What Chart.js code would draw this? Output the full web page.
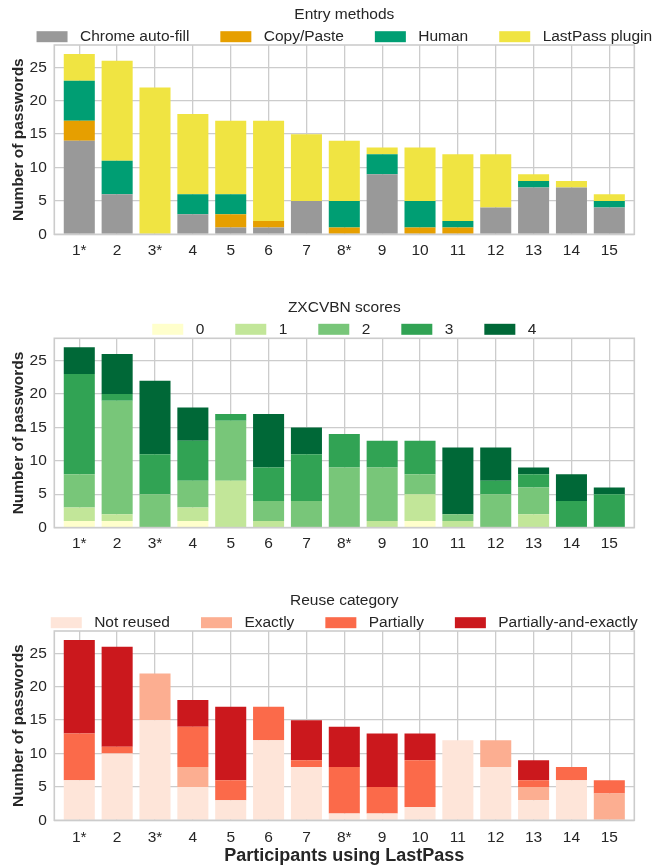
<!DOCTYPE html>
<html><head><meta charset="utf-8">
<script src="https://cdn.jsdelivr.net/npm/chart.js@4.4.0/dist/chart.umd.min.js"></script>
<style>
html,body{margin:0;padding:0;background:#fff;overflow:hidden}
#wrap{position:relative;width:652px;height:867px;background:#fff}
.c{position:absolute;left:0;width:652px}
</style></head><body>
<div id="wrap">
<div class="c" style="top:0;height:262px"><canvas id="c1"></canvas></div>
<div class="c" style="top:290px;height:262px"><canvas id="c2"></canvas></div>
<div class="c" style="top:585px;height:282px"><canvas id="c3"></canvas></div>
</div>
<script>
// ---- data ----
const participants = ['1*','2','3*','4','5','6','7','8*','9','10','11','12','13','14','15'];
const yTicks = [0,5,10,15,20,25];

const entryLabels = ['Chrome auto-fill','Copy/Paste','Human','LastPass plugin'];
const chromeAutofill = [14,6,0,3,1,1,5,0,9,0,0,4,7,7,4];
const copyPaste      = [3,0,0,0,2,1,0,1,0,1,1,0,0,0,0];
const human          = [6,5,0,3,3,0,0,4,3,4,1,0,1,0,1];
const lastpassPlugin = [4,15,22,12,11,15,10,9,1,8,10,8,1,1,1];

const zxcvbnLabels = ['0','1','2','3','4'];
const score0 = [1,1,0,1,0,0,0,0,0,1,0,0,0,0,0];
const score1 = [2,1,0,2,7,1,0,0,1,4,1,0,2,0,0];
const score2 = [5,17,5,4,9,3,4,9,8,3,1,5,4,0,0];
const score3 = [15,1,6,6,1,5,7,5,4,5,0,2,2,4,5];
const score4 = [4,6,11,5,0,8,4,0,0,0,10,5,1,4,1];

const reuseLabels = ['Not reused','Exactly','Partially','Partially-and-exactly'];
const notReused    = [6,10,15,5,3,12,8,1,1,2,12,8,3,6,0];
const exactly      = [0,0,7,3,0,0,0,0,0,0,0,4,2,0,4];
const partially    = [7,1,0,6,3,5,1,7,4,7,0,0,1,2,2];
const partExactly  = [14,15,0,4,11,0,6,6,8,4,0,0,3,0,0];

// ---- style ----
const FONT = '"Liberation Sans", Arial, sans-serif';
const TEXT = '#262626';
const GRID = '#cccccc';
const FS = 15.5;

const frame = {
  id: 'frame',
  beforeDraw(chart, args, opts) {
    const {ctx, chartArea: a} = chart;
    const cx = (a.left + a.right) / 2;
    ctx.save();
    ctx.fillStyle = TEXT;
    ctx.font = FS + 'px ' + FONT;
    ctx.textAlign = 'center';
    ctx.textBaseline = 'middle';
    ctx.fillText(opts.title, cx, opts.titleY);
    const items = chart.data.datasets.map(d => ({label: d.label, color: d.backgroundColor}));
    const box = 31, boxH = 11, gap = 12.4, col = 31;
    const widths = items.map(it => box + gap + ctx.measureText(it.label).width);
    const total = widths.reduce((s, w) => s + w, 0) + col * (items.length - 1);
    let x = cx - total / 2;
    ctx.textAlign = 'left';
    items.forEach((it, i) => {
      ctx.fillStyle = it.color;
      ctx.fillRect(x, opts.legendY - boxH / 2, box, boxH);
      ctx.fillStyle = TEXT;
      ctx.fillText(it.label, x + box + gap, opts.legendY);
      x += widths[i] + col;
    });
    ctx.restore();
  },
  afterDatasetsDraw(chart) {
    const {ctx, chartArea: a} = chart;
    ctx.save();
    ctx.strokeStyle = GRID;
    ctx.lineWidth = 1.6;
    ctx.strokeRect(a.left, a.top, a.right - a.left, a.bottom - a.top);
    ctx.restore();
  }
};

function makeChart(id, labels, series, colors, o) {
  return new Chart(document.getElementById(id), {
    type: 'bar',
    data: {
      datasets: series.map((vals, k) => ({
        label: labels[k],
        backgroundColor: colors[k],
        data: vals.map((v, i) => ({x: i, y: v})),
        categoryPercentage: 0.82,
        barPercentage: 1,
        borderWidth: 0
      }))
    },
    options: {
      responsive: true,
      maintainAspectRatio: false,
      animation: false,
      layout: {padding: {top: o.top, right: 17.7, left: 0, bottom: 0}},
      plugins: {
        legend: {display: false},
        tooltip: {enabled: false},
        frame: {title: o.title, titleY: o.titleY, legendY: o.legendY}
      },
      scales: {
        x: {
          type: 'linear', stacked: true, min: -0.66, max: 14.66, offset: false,
          afterBuildTicks: s => { s.ticks = participants.map((_, i) => ({value: i})); },
          afterFit: s => { s.height = o.xh; },
          grid: {color: GRID, lineWidth: 1.3, drawTicks: false, offset: false},
          border: {display: false},
          ticks: {padding: o.tickPad, color: TEXT, font: {family: FONT, size: FS}, maxRotation: 0, autoSkip: false,
                  callback: v => participants[v]},
          title: o.xTitle ? {display: true, text: o.xTitle, color: TEXT,
                  font: {family: FONT, size: 18, weight: 'bold'}, padding: {top: 0, bottom: 0}} : {display: false}
        },
        y: {
          stacked: true, min: 0, max: 28.35,
          afterBuildTicks: s => { s.ticks = yTicks.map(v => ({value: v})); },
          afterFit: s => { s.width = 54.3; },
          grid: {color: GRID, lineWidth: 1.3, drawTicks: false},
          border: {display: false},
          ticks: {padding: 7.5, color: TEXT, font: {family: FONT, size: FS}},
          title: {display: true, text: 'Number of passwords', color: TEXT,
                  font: {family: FONT, size: 15.5, weight: 'bold'}, padding: {top: 9.7, bottom: 0}}
        }
      }
    },
    plugins: [frame]
  });
}

makeChart('c1', entryLabels, [chromeAutofill, copyPaste, human, lastpassPlugin],
  ['#999999', '#E69F00', '#009E73', '#F0E442'],
  {top: 45, xh: 27.7, tickPad: 6.8, title: 'Entry methods', titleY: 14.3, legendY: 36.7});

makeChart('c2', zxcvbnLabels, [score0, score1, score2, score3, score4],
  ['#ffffcc', '#c2e699', '#78c679', '#31a354', '#006837'],
  {top: 48.3, xh: 24.4, tickPad: 6.8, title: 'ZXCVBN scores', titleY: 17.3, legendY: 39.3});

makeChart('c3', reuseLabels, [notReused, exactly, partially, partExactly],
  ['#fee5d9', '#fcae91', '#fb6a4a', '#cb181d'],
  {top: 46, xh: 46.7, tickPad: 8, title: 'Reuse category', titleY: 15.7, legendY: 37.7, xTitle: 'Participants using LastPass'});
</script>
</body></html>
